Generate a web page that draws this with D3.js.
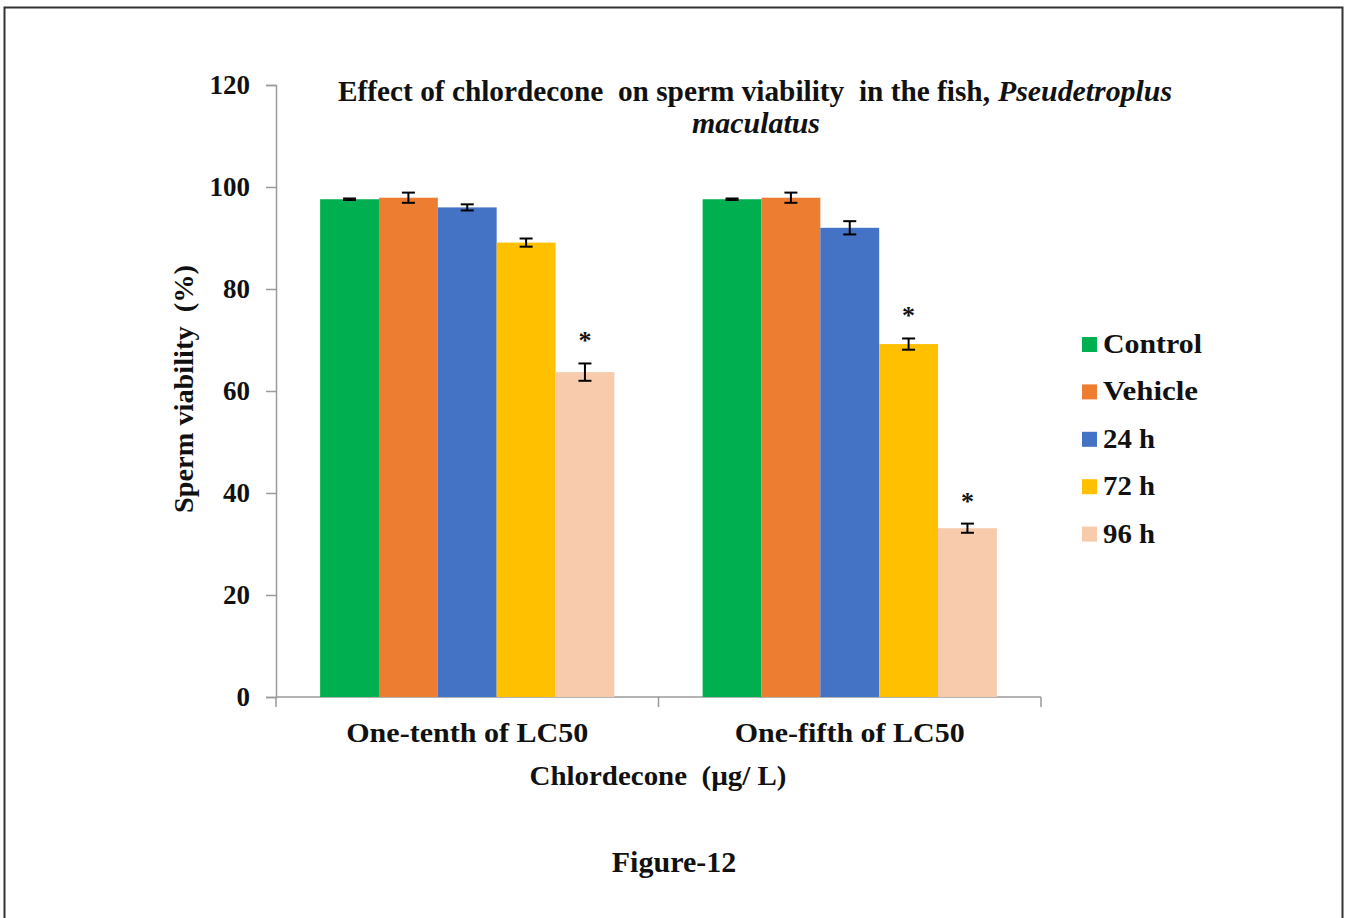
<!DOCTYPE html>
<html>
<head>
<meta charset="utf-8">
<script src="https://cdn.jsdelivr.net/npm/d3@7"></script>
<style>
  html, body { margin: 0; padding: 0; background: #fff; }
  svg { display: block; }
  text { font-family: "Liberation Serif", "Times New Roman", serif; font-weight: bold; fill: #111; }
</style>
</head>
<body>
<svg id="chart" width="1346" height="918"></svg>
<script>
// Exposure groups (x categories)
const categories = ["One-tenth of LC50", "One-fifth of LC50"];

// Series shown in each group
const seriesNames = ["Control", "Vehicle", "24 h", "72 h", "96 h"];
const seriesColors = ["#00B050", "#ED7D31", "#4472C4", "#FFC000", "#F8CBAD"];

// Mean sperm viability (%) per series, one value per category
const controlValues = [97.6, 97.6];
const vehicleValues = [97.9, 97.9];
const h24Values = [96.0, 92.0];
const h72Values = [89.1, 69.2];
const h96Values = [63.7, 33.1];

// Standard errors per series
const controlErr = [0.15, 0.15];
const vehicleErr = [1.0, 1.0];
const h24Err = [0.6, 1.3];
const h72Err = [0.8, 1.1];
const h96Err = [1.7, 0.9];

// Significant difference from control (asterisk)
const controlSig = [false, false];
const vehicleSig = [false, false];
const h24Sig = [false, false];
const h72Sig = [false, true];
const h96Sig = [true, true];

// Y axis ticks
const yTicks = [0, 20, 40, 60, 80, 100, 120];

const seriesValues = [controlValues, vehicleValues, h24Values, h72Values, h96Values];
const seriesErrors = [controlErr, vehicleErr, h24Err, h72Err, h96Err];
const seriesSig = [controlSig, vehicleSig, h24Sig, h72Sig, h96Sig];

const rows = [];
categories.forEach((cat, ci) => {
  seriesNames.forEach((s, si) => {
    rows.push({ cat, series: s, value: seriesValues[si][ci], err: seriesErrors[si][ci], sig: seriesSig[si][ci], color: seriesColors[si] });
  });
});

const svg = d3.select("#chart");

// Outer frame
svg.append("rect")
  .attr("x", 4.5).attr("y", 7.5)
  .attr("width", 1338).attr("height", 930)
  .attr("fill", "none").attr("stroke", "#333").attr("stroke-width", 2);

const plot = { left: 276, right: 1041, top: 85, bottom: 697 };

const x0 = d3.scaleBand().domain(categories).range([plot.left, plot.right]).paddingInner(0).paddingOuter(0);
// 5 bars + gap of 1.5 bar widths per category
const barW = x0.bandwidth() / 6.5;
const x1 = d3.scaleBand().domain(seriesNames).range([0, barW * 5]).padding(0);
const groupOffset = barW * 0.75;

const y = d3.scaleLinear().domain([0, 120]).range([plot.bottom, plot.top]);

const axisColor = "#9a9a9a";

// Y axis
const yAxis = svg.append("g")
  .attr("transform", `translate(${plot.left},0)`)
  .call(d3.axisLeft(y).tickValues(yTicks).tickSize(10).tickPadding(16).tickFormat(d3.format("d")));
yAxis.select(".domain").attr("stroke", axisColor).attr("stroke-width", 1.5);
yAxis.selectAll(".tick line").attr("stroke", axisColor).attr("stroke-width", 1.5);
yAxis.selectAll(".tick text")
  .attr("font-size", 27).attr("font-family", "Liberation Serif").attr("font-weight", "bold").attr("fill", "#111")
  .attr("dy", "0.33em");

// X axis baseline and category boundary ticks
svg.append("line")
  .attr("x1", plot.left).attr("x2", plot.right)
  .attr("y1", plot.bottom).attr("y2", plot.bottom)
  .attr("stroke", axisColor).attr("stroke-width", 1.5);
const boundaries = [plot.left].concat(categories.map(c => x0(c) + x0.bandwidth()));
svg.selectAll(".xtick").data(boundaries).enter().append("line")
  .attr("x1", d => d).attr("x2", d => d)
  .attr("y1", plot.bottom).attr("y2", plot.bottom + 10)
  .attr("stroke", axisColor).attr("stroke-width", 1.5);

// Bars
const barX = d => x0(d.cat) + groupOffset + x1(d.series);
svg.append("g").selectAll("rect").data(rows).enter().append("rect")
  .attr("x", barX)
  .attr("y", d => y(d.value))
  .attr("width", x1.bandwidth())
  .attr("height", d => y(0) - y(d.value))
  .attr("fill", d => d.color);

// Error bars
const capHalf = 6.5;
const eb = svg.append("g").attr("stroke", "#000").attr("stroke-width", 2);
rows.forEach(d => {
  const cx = barX(d) + x1.bandwidth() / 2;
  const yTop = y(d.value + d.err), yBot = y(d.value - d.err);
  eb.append("line").attr("x1", cx).attr("x2", cx).attr("y1", yTop).attr("y2", yBot);
  eb.append("line").attr("x1", cx - capHalf).attr("x2", cx + capHalf).attr("y1", yTop).attr("y2", yTop);
  eb.append("line").attr("x1", cx - capHalf).attr("x2", cx + capHalf).attr("y1", yBot).attr("y2", yBot);
});

// Significance asterisks
svg.append("g").selectAll("text").data(rows.filter(d => d.sig)).enter().append("text")
  .attr("x", d => barX(d) + x1.bandwidth() / 2)
  .attr("y", d => y(d.value + d.err) - 14)
  .attr("text-anchor", "middle")
  .attr("font-size", 26)
  .attr("font-weight", "normal")
  .text("*");

// Category labels
svg.append("g").selectAll("text").data(categories).enter().append("text")
  .attr("x", d => x0(d) + x0.bandwidth() / 2)
  .attr("y", 742)
  .attr("text-anchor", "middle")
  .attr("font-size", 28)
  .attr("textLength", (d, i) => [242, 230][i])
  .attr("lengthAdjust", "spacingAndGlyphs")
  .text(d => d);

// X axis title
svg.append("text")
  .attr("x", 658).attr("y", 785)
  .attr("text-anchor", "middle")
  .attr("font-size", 28)
  .attr("textLength", 257).attr("lengthAdjust", "spacingAndGlyphs")
  .style("white-space", "pre")
  .text("Chlordecone  (\u00b5g/ L)");

// Y axis title
svg.append("text")
  .attr("transform", "translate(193,389) rotate(-90)")
  .attr("text-anchor", "middle")
  .attr("font-size", 28)
  .attr("textLength", 248).attr("lengthAdjust", "spacingAndGlyphs")
  .style("white-space", "pre")
  .text("Sperm viability  (%)");

// Chart title
svg.append("text")
  .attr("x", 338).attr("y", 101)
  .attr("font-size", 30)
  .attr("textLength", 652).attr("lengthAdjust", "spacingAndGlyphs")
  .style("white-space", "pre")
  .text("Effect of chlordecone  on sperm viability  in the fish,");
svg.append("text")
  .attr("x", 998).attr("y", 101)
  .attr("font-size", 30).attr("font-style", "italic")
  .attr("textLength", 174).attr("lengthAdjust", "spacingAndGlyphs")
  .text("Pseudetroplus");
svg.append("text")
  .attr("x", 692).attr("y", 133)
  .attr("font-size", 30).attr("font-style", "italic")
  .attr("textLength", 128).attr("lengthAdjust", "spacingAndGlyphs")
  .text("maculatus");

// Legend
const legendWidths = [99, 95, 52, 52, 52];
const legend = svg.append("g").selectAll("g").data(seriesNames).enter().append("g")
  .attr("transform", (d, i) => `translate(1082, ${353 + i * 47.4})`);
legend.append("rect")
  .attr("x", 0).attr("y", -16).attr("width", 15).attr("height", 15)
  .attr("fill", (d, i) => seriesColors[i]);
legend.append("text")
  .attr("x", 21).attr("y", 0)
  .attr("font-size", 28)
  .attr("textLength", (d, i) => legendWidths[i]).attr("lengthAdjust", "spacingAndGlyphs")
  .text(d => d);

// Figure caption
svg.append("text")
  .attr("x", 674).attr("y", 872)
  .attr("text-anchor", "middle")
  .attr("font-size", 30)
  .attr("fill", "#231f20")
  .text("Figure-12");
</script>
</body>
</html>
